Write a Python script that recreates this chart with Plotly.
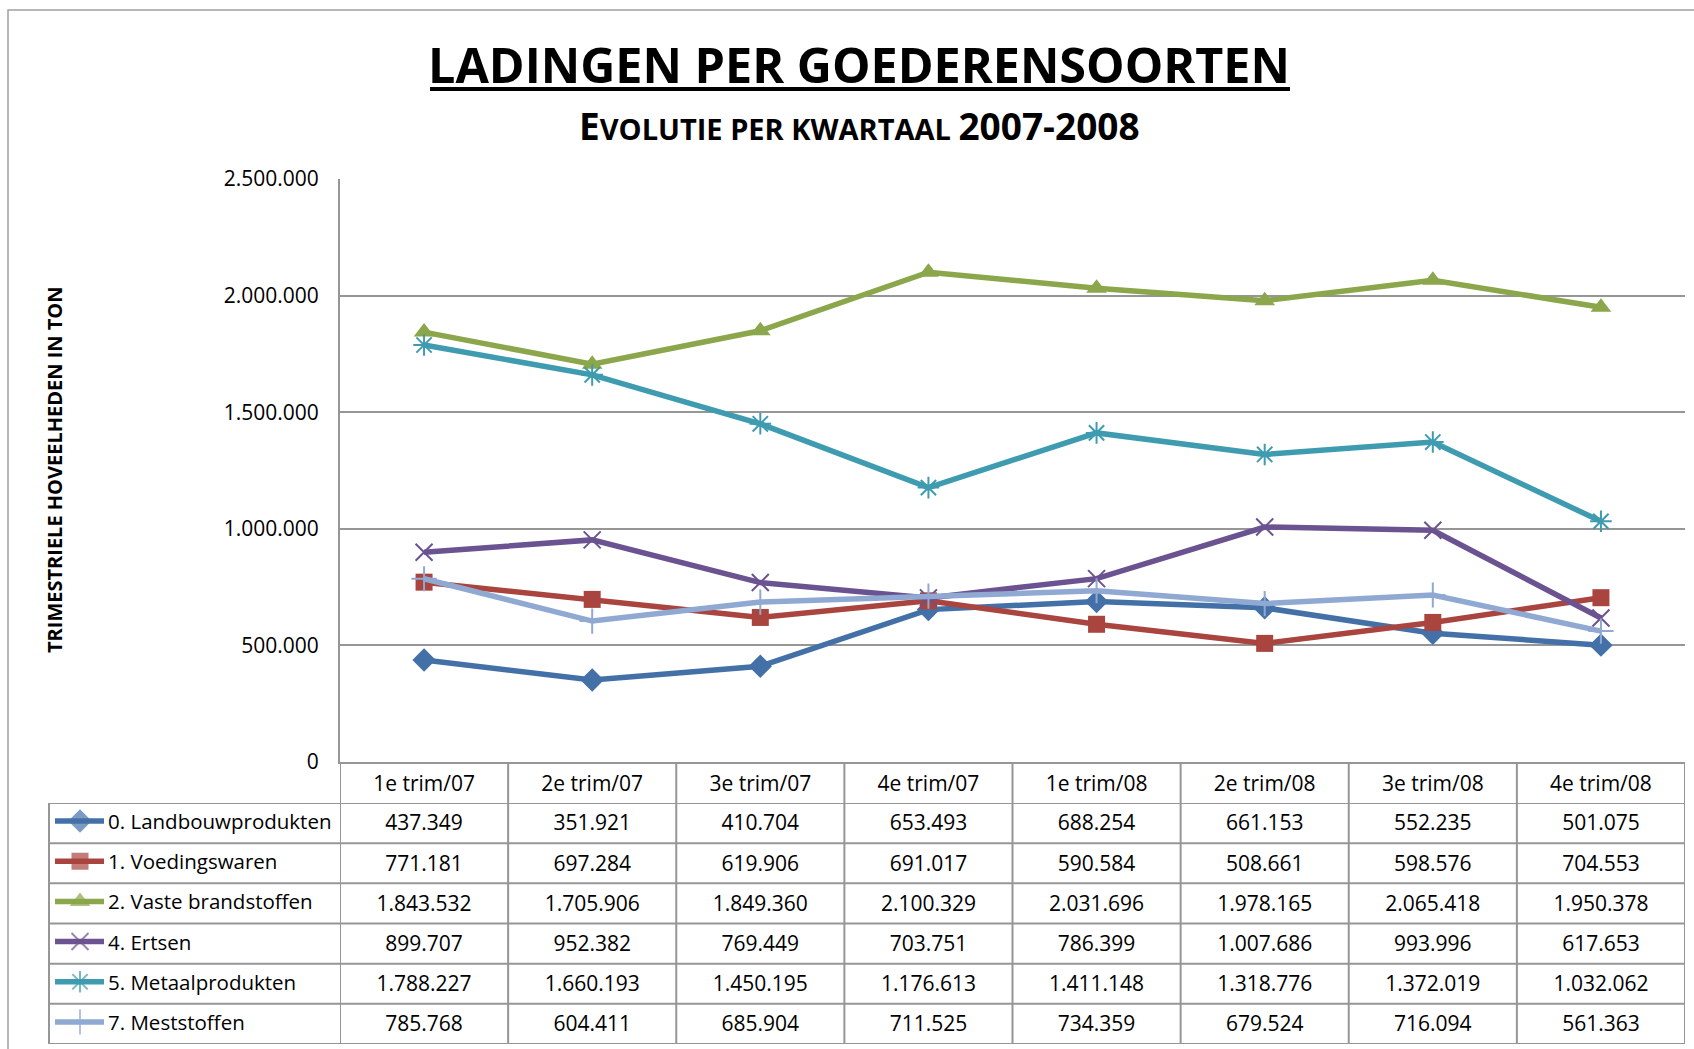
import plotly.graph_objects as go

# ---------------- data ----------------
categories = ["1e trim/07", "2e trim/07", "3e trim/07", "4e trim/07",
              "1e trim/08", "2e trim/08", "3e trim/08", "4e trim/08"]
series_names = ["0. Landbouwprodukten", "1. Voedingswaren", "2. Vaste brandstoffen",
                "4. Ertsen", "5. Metaalprodukten", "7. Meststoffen"]
landbouw = [437349, 351921, 410704, 653493, 688254, 661153, 552235, 501075]
voeding = [771181, 697284, 619906, 691017, 590584, 508661, 598576, 704553]
vaste = [1843532, 1705906, 1849360, 2100329, 2031696, 1978165, 2065418, 1950378]
ertsen = [899707, 952382, 769449, 703751, 786399, 1007686, 993996, 617653]
metaal = [1788227, 1660193, 1450195, 1176613, 1411148, 1318776, 1372019, 1032062]
mest = [785768, 604411, 685904, 711525, 734359, 679524, 716094, 561363]
y_ticks = [0, 500000, 1000000, 1500000, 2000000, 2500000]

title = "LADINGEN PER GOEDERENSOORTEN"
y_title = "TRIMESTRIELE HOVEELHEDEN IN TON"

# ---------------- style ----------------
W, H = 1694, 1049
FONT = "Open Sans"
colors = ["#4470A8", "#A9443F", "#8BA64B", "#6B5290", "#3E9BB0", "#90A9D2"]
symbols = ["diamond", "square", "triangle-up", "x-thin-open", "asterisk-open", "cross-thin-open"]
msizes = [18, 17, 18, 17, 18, 18]
GRID = "#969696"
LW = 5.5

# pixel layout
PLOT_L, PLOT_R = 340, 1685
PLOT_T, PLOT_B = 179, 762
HEAD_B = 803
TAB_B = 1044
TAB_L = 49


def px(x):
    return x / W


def py(y):
    return 1 - y / H


all_series = [landbouw, voeding, vaste, ertsen, metaal, mest]
n_rows = len(all_series)


def fmt(v):
    return f"{v:,}".replace(",", ".")


fig = go.Figure()

# main lines
for name, vals, col, sym, ms in zip(series_names, all_series, colors, symbols, msizes):
    open_sym = sym.endswith("open")
    fig.add_trace(go.Scatter(
        x=categories, y=vals, name=name, mode="lines+markers",
        line=dict(color=col, width=LW),
        marker=dict(symbol=sym, size=ms, color=col,
                    line=dict(color=col, width=2 if open_sym else 0)),
        xaxis="x", yaxis="y", showlegend=False,
    ))

# table values
for i, vals in enumerate(all_series):
    fig.add_trace(go.Scatter(
        x=categories, y=[i + 0.55] * len(categories), mode="text",
        text=[fmt(v) for v in vals], textposition="middle center",
        textfont=dict(family=FONT, size=21, color="#000000"),
        xaxis="x", yaxis="y2", showlegend=False, hoverinfo="skip",
        cliponaxis=False,
    ))

# legend keys in table
KEY_X0, KEY_XM, KEY_X1, KEY_TXT = 55, 80, 104, 106
for i, (name, col, sym, ms) in enumerate(zip(series_names, colors, symbols, msizes)):
    open_sym = sym.endswith("open")
    fig.add_trace(go.Scatter(
        x=[KEY_X0, KEY_XM, KEY_X1], y=[i + 0.45] * 3, mode="lines+markers",
        line=dict(color=col, width=LW),
        marker=dict(symbol=sym, size=[0, ms, 0], color=col,
                    line=dict(color=col, width=2 if open_sym else 0)),
        xaxis="x3", yaxis="y2", showlegend=False, hoverinfo="skip",
        cliponaxis=False,
    ))
    fig.add_annotation(x=KEY_TXT, y=i + 0.45, xref="x3", yref="y2", text=name,
                       showarrow=False, xanchor="left", yanchor="middle",
                       font=dict(family=FONT, size=20.5, color="#000000"))

shapes = []
# table horizontal lines
for r in range(n_rows + 1):
    shapes.append(dict(type="line", xref="paper", yref="y2",
                       x0=px(TAB_L), x1=px(PLOT_R), y0=r, y1=r,
                       line=dict(color=GRID, width=2)))
# header + body verticals
for k in range(len(categories) + 1):
    shapes.append(dict(type="line", xref="x", yref="paper",
                       x0=k - 0.5, x1=k - 0.5, y0=py(TAB_B), y1=py(PLOT_B),
                       line=dict(color=GRID, width=2)))
# left border of legend column
shapes.append(dict(type="line", xref="paper", yref="paper",
                   x0=px(TAB_L), x1=px(TAB_L), y0=py(TAB_B), y1=py(HEAD_B),
                   line=dict(color=GRID, width=2)))
# title underline
shapes.append(dict(type="line", xref="paper", yref="paper",
                   x0=px(430), x1=px(1290), y0=py(89), y1=py(89),
                   line=dict(color="#000000", width=4)))
# outer chart border
shapes.append(dict(type="rect", xref="paper", yref="paper",
                   x0=px(8), x1=px(W + 20), y0=py(H + 20), y1=py(10),
                   line=dict(color="#A0A0A0", width=1.5), fillcolor="rgba(0,0,0,0)"))

fig.add_annotation(x=px(859), y=py(64), xref="paper", yref="paper",
                   text=f"<b>{title}</b>", showarrow=False,
                   xanchor="center", yanchor="middle",
                   font=dict(family=FONT, size=48.5, color="#000000"))
fig.add_annotation(x=px(859), y=py(125), xref="paper", yref="paper",
                   text="<b><span style='font-size:37px'>E</span>VOLUTIE PER KWARTAAL "
                        "<span style='font-size:37px'>2007-2008</span></b>",
                   showarrow=False, xanchor="center", yanchor="middle",
                   font=dict(family=FONT, size=29, color="#000000"))
fig.add_annotation(x=px(54), y=py(470), xref="paper", yref="paper",
                   text=f"<b>{y_title}</b>", textangle=-90, showarrow=False,
                   xanchor="center", yanchor="middle",
                   font=dict(family=FONT, size=20, color="#000000"))

fig.update_layout(
    width=W, height=H, autosize=False,
    margin=dict(l=0, r=0, t=0, b=0, pad=0, autoexpand=False),
    paper_bgcolor="#FFFFFF", plot_bgcolor="#FFFFFF",
    separators=",.",
    showlegend=False,
    shapes=shapes,
    xaxis=dict(
        domain=[px(PLOT_L), px(PLOT_R)], anchor="y", automargin=False,
        type="category", range=[-0.5, len(categories) - 0.5],
        showgrid=False, zeroline=False, showline=True,
        linecolor=GRID, linewidth=2,
        ticks="", ticklabelstandoff=2,
        tickfont=dict(family=FONT, size=21, color="#000000"),
    ),
    yaxis=dict(
        domain=[py(PLOT_B), py(PLOT_T)], anchor="x", automargin=False,
        range=[0, 2500000], tickvals=y_ticks, tickformat=",d",
        showgrid=True, gridcolor=GRID, gridwidth=2,
        zeroline=False, showline=True, linecolor=GRID, linewidth=2,
        ticks="", ticklabelstandoff=15,
        tickfont=dict(family=FONT, size=21, color="#000000"),
    ),
    yaxis2=dict(
        domain=[py(TAB_B), py(HEAD_B)], anchor="x", automargin=False,
        range=[n_rows, 0], visible=False,
    ),
    xaxis3=dict(
        domain=[px(TAB_L), px(PLOT_L)], anchor="y2", automargin=False,
        range=[TAB_L, PLOT_L], visible=False,
    ),
)

fig.write_html(
    "out.html",
    config={"displayModeBar": False},
    post_script=(
        "document.body.style.margin='0';document.body.style.padding='0';"
        "document.body.style.overflow='hidden';"
        "var gd=document.getElementById('{plot_id}');"
        "gd.style.position='fixed';gd.style.top='0px';gd.style.left='0px';"
    ),
)
